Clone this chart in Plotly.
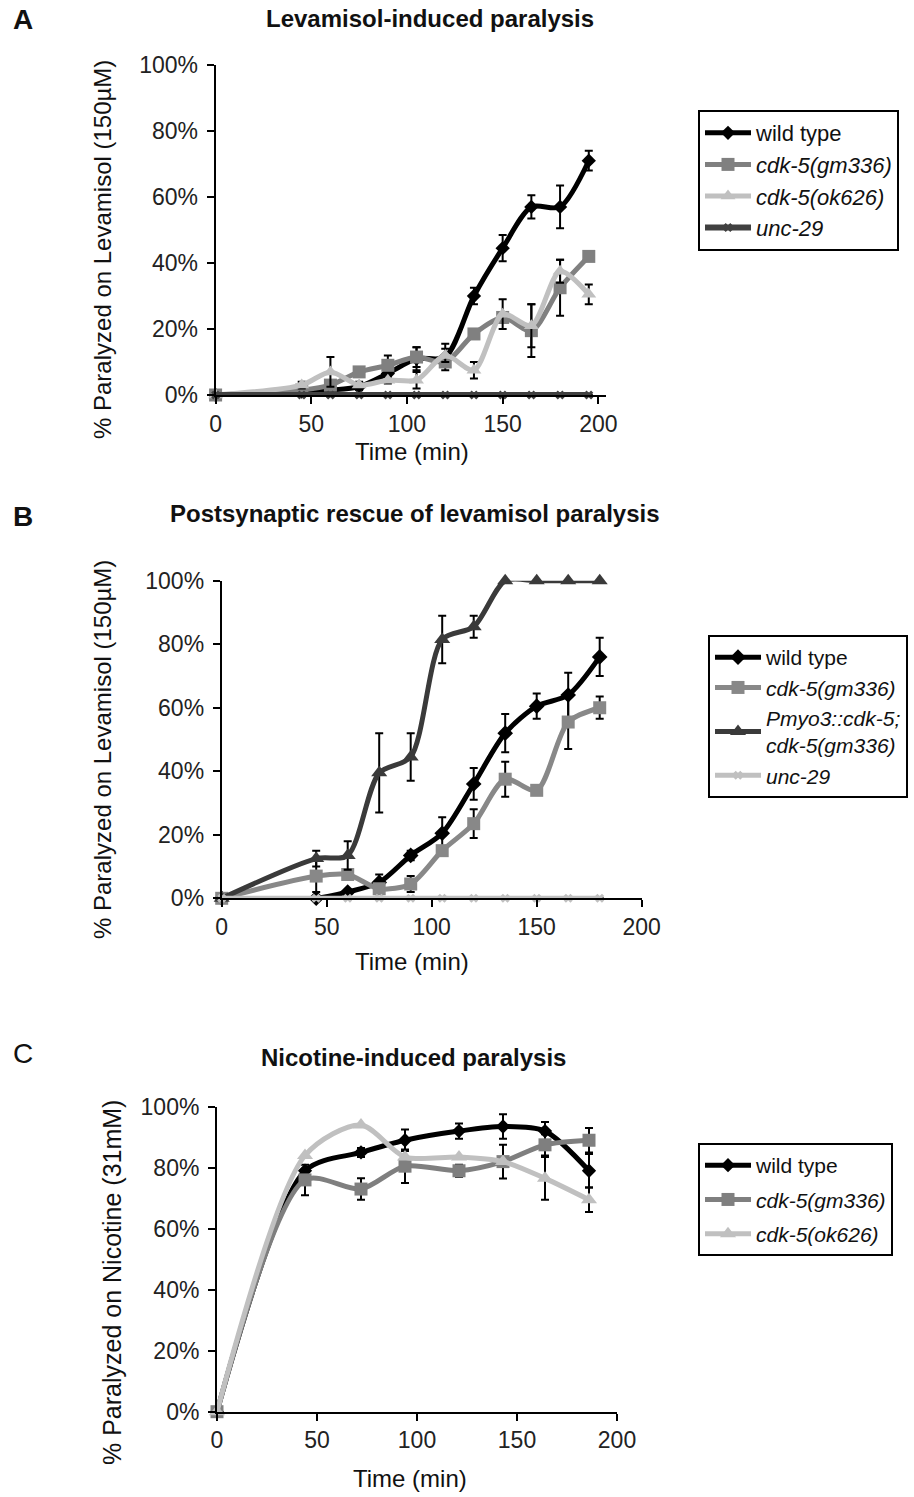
import plotly.graph_objects as go

# ---------------- Panel A: levamisole-induced paralysis ----------------
time_a = [0, 45, 60, 75, 90, 105, 120, 135, 150, 165, 180, 195]
wt_a = [0, 1, 1.5, 2.5, 6.5, 11, 11.5, 30, 44.5, 57, 57, 71]
wt_a_err = [0, 0, 0, 1, 2, 3.5, 4, 2.5, 4, 3.5, 6.5, 3]
gm336_a = [0, 1.5, 3, 7, 9, 11.5, 10, 18.5, 23.5, 19.5, 32.5, 42]
gm336_a_err = [0, 0, 1, 1, 3, 3, 1, 1.5, 1.5, 8, 8.5, 1]
ok626_a = [0, 3, 7, 3, 4.5, 4.5, 12, 7.5, 24.5, 21, 37.5, 30.5]
ok626_a_err = [0, 1, 4.5, 1, 1, 2.5, 2, 2.5, 4.5, 6.5, 3.5, 3]
unc29_a = [0] * 12

# ---------------- Panel B: postsynaptic rescue ----------------
time_b = [0, 45, 60, 75, 90, 105, 120, 135, 150, 165, 180]
wt_b = [0, 0, 2, 5, 13.5, 20.5, 36, 52, 60.5, 64, 76]
wt_b_err = [0, 0, 0, 2.5, 1.5, 5, 5, 6, 4, 7, 6]
gm336_b = [0, 7, 7.5, 3, 4.5, 15, 23.5, 37.5, 34, 55.5, 60]
gm336_b_err = [0, 5, 1, 0, 2.5, 1.5, 4.5, 5.5, 0, 8.5, 3.5]
pmyo3_b = [0, 12.5, 13.5, 39.5, 44.5, 81.5, 85.5, 100, 100, 100, 100]
pmyo3_b_err = [0, 2.5, 4.5, 12.5, 7.5, 7.5, 3.5, 0, 0, 0, 0]
unc29_b = [0] * 11

# ---------------- Panel C: nicotine-induced paralysis ----------------
time_c = [0, 44, 72, 94, 121, 143, 164, 186]
wt_c = [0, 79, 85, 89, 92, 93.5, 92, 79]
wt_c_err = [0, 0, 1.5, 3.5, 2.5, 4, 3, 5.5]
gm336_c = [0, 76, 73, 80.5, 79, 82, 87.5, 89]
gm336_c_err = [0, 5, 3.5, 5.5, 2, 5.5, 3.5, 4]
ok626_c = [0, 84, 94, 83.5, 83.5, 82, 76.5, 69.5]
ok626_c_err = [0, 0, 0, 0, 0, 0, 7, 4]

x_ticks = [0, 50, 100, 150, 200]
y_ticks = [0, 0.2, 0.4, 0.6, 0.8, 1.0]

BLACK = "#000000"
MID = "#808080"
LIGHT = "#c0c0c0"
DARK = "#404040"
FONT = "Liberation Sans, Arial, sans-serif"
W, H = 914, 1497


def frac(v):
    return [p / 100.0 for p in v]


def errs(v):
    return [e / 100.0 if e else None for e in v]


def series(x, y, err, name, color, symbol, size, axis, legend, width=5):
    xa, ya = axis
    return go.Scatter(
        x=x, y=frac(y), name=name, mode="lines+markers",
        line=dict(color=color, width=width, shape="spline", smoothing=0.8),
        marker=dict(color=color, symbol=symbol, size=size),
        error_y=dict(type="data", array=errs(err), visible=True,
                     color="black", thickness=2, width=4),
        xaxis=xa, yaxis=ya, legend=legend, cliponaxis=False,
    )


fig = go.Figure()

# Panel A
fig.add_trace(series(time_a, wt_a, wt_a_err, "wild type", BLACK, "diamond", 11, ("x", "y"), "legend"))
fig.add_trace(series(time_a, gm336_a, gm336_a_err, "<i>cdk-5(gm336)</i>", MID, "square", 13, ("x", "y"), "legend"))
fig.add_trace(series(time_a, ok626_a, ok626_a_err, "<i>cdk-5(ok626)</i>", LIGHT, "triangle-up", 13, ("x", "y"), "legend"))
fig.add_trace(series(time_a, unc29_a, [0] * 12, "<i>unc-29</i>", DARK, "x", 8, ("x", "y"), "legend", width=6))

# Panel B
fig.add_trace(series(time_b, wt_b, wt_b_err, "wild type", BLACK, "diamond", 12, ("x2", "y2"), "legend2"))
fig.add_trace(series(time_b, gm336_b, gm336_b_err, "<i>cdk-5(gm336)</i>", "#888888", "square", 13, ("x2", "y2"), "legend2"))
fig.add_trace(series(time_b, pmyo3_b, pmyo3_b_err, "<i>Pmyo3::cdk-5;<br>cdk-5(gm336)</i>", "#3a3a3a", "triangle-up", 14, ("x2", "y2"), "legend2"))
fig.add_trace(series(time_b, unc29_b, [0] * 11, "<i>unc-29</i>", LIGHT, "x", 8, ("x2", "y2"), "legend2"))

# Panel C
fig.add_trace(series(time_c, wt_c, wt_c_err, "wild type", BLACK, "diamond", 11, ("x3", "y3"), "legend3"))
fig.add_trace(series(time_c, gm336_c, gm336_c_err, "<i>cdk-5(gm336)</i>", "#7f7f7f", "square", 13, ("x3", "y3"), "legend3"))
fig.add_trace(series(time_c, ok626_c, ok626_c_err, "<i>cdk-5(ok626)</i>", LIGHT, "triangle-up", 14, ("x3", "y3"), "legend3"))


def xax(left, right, xmax, anchor):
    return dict(domain=[left / W, right / W], range=[0, xmax], anchor=anchor,
                tickvals=x_ticks, ticks="outside", ticklen=7, tickwidth=2,
                tickcolor="black", showline=True, linecolor="black", linewidth=2,
                showgrid=False, zeroline=False, automargin=False,
                tickfont=dict(family=FONT, size=23, color="#222"))


def yax(top, bottom, anchor):
    return dict(domain=[1 - bottom / H, 1 - top / H], range=[0, 1], anchor=anchor,
                tickvals=y_ticks, tickformat=".0%", ticks="outside", ticklen=7,
                tickwidth=2, tickcolor="black", showline=True, linecolor="black",
                linewidth=2, showgrid=False, zeroline=False, ticklabelstandoff=4,
                automargin=False,
                tickfont=dict(family=FONT, size=23, color="#222"))


def legend_box(left, top, size, gap):
    return dict(x=left / W, y=1 - top / H, xanchor="left", yanchor="top",
                bgcolor="white", bordercolor="black", borderwidth=2,
                font=dict(family=FONT, size=size, color="#111"),
                traceorder="grouped", tracegroupgap=gap, itemwidth=46)


fig.update_layout(
    width=W, height=H, margin=dict(l=0, r=0, t=0, b=0, pad=0, autoexpand=False),
    paper_bgcolor="white", plot_bgcolor="white",
    xaxis=xax(215.6, 606, 204, "y"),
    yaxis=yax(65, 395, "x"),
    xaxis2=xax(221.7, 641.7, 200, "y2"),
    yaxis2=yax(580.7, 898.3, "x2"),
    xaxis3=xax(217, 617, 200, "y3"),
    yaxis3=yax(1106.7, 1411.7, "x3"),
    legend=legend_box(698, 110, 22, 0),
    legend2=legend_box(708, 635, 21, 0),
    legend3=legend_box(698, 1143, 21, 4),
)

for i in range(len(fig.data)):
    fig.data[i].legendgroup = "g%d" % i

ann = []


def text(x, y, s, size, bold=False, angle=0):
    ann.append(dict(x=x / W, y=1 - y / H, xref="paper", yref="paper",
                    text="<b>%s</b>" % s if bold else s, showarrow=False,
                    textangle=angle, xanchor="center", yanchor="middle",
                    font=dict(family=FONT, size=size, color="#111")))


# panel letters and titles
text(23, 20, "A", 28, bold=True)
text(430, 18, "Levamisol-induced paralysis", 24, bold=True)
text(23, 516, "B", 28, bold=True)
text(415, 513, "Postsynaptic rescue of levamisol paralysis", 24, bold=True)
text(23, 1053, "C", 28)
text(413, 1057, "Nicotine-induced paralysis", 24, bold=True)

# axis titles
text(103, 250, "% Paralyzed on Levamisol (150µM)", 24, angle=-90)
text(412, 451, "Time (min)", 24)
text(103, 750, "% Paralyzed on Levamisol (150µM)", 24, angle=-90)
text(412, 961, "Time (min)", 24)
text(112, 1283, "% Paralyzed on Nicotine (31mM)", 25, angle=-90)
text(410, 1478, "Time (min)", 24)

fig.update_layout(annotations=ann)
fig.write_html("out.html")
